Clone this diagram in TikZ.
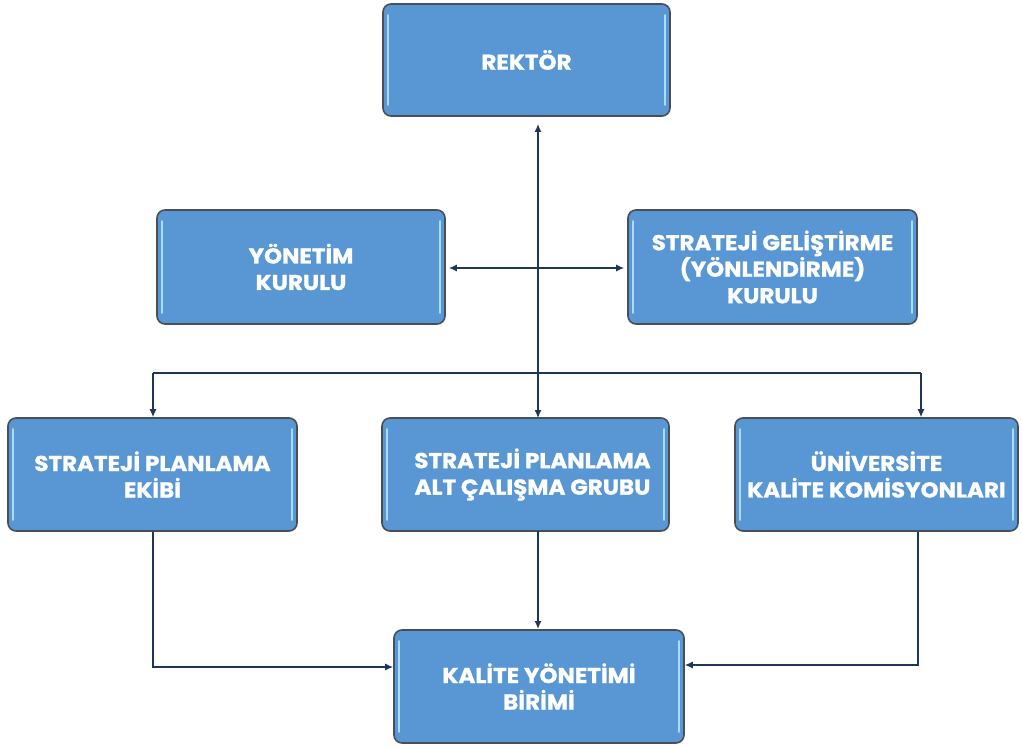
\documentclass[tikz,border=0pt]{standalone}
\usepackage{fontspec}
\setmainfont{Poppins}
\usetikzlibrary{calc,arrows.meta}
\definecolor{boxfill}{HTML}{5897D3}
\definecolor{boxedge}{HTML}{4A4F57}
\definecolor{inner}{HTML}{A9DCF8}
\definecolor{conn}{HTML}{1F3559}
\begin{document}
\begin{tikzpicture}[x=1pt,y=-1pt,
  orgbox/.style={draw=boxedge, line width=1.6pt, fill=boxfill, rounded corners=8pt,
     text=white, font=\bfseries\fontsize{21.5}{26.5}\selectfont\addfontfeature{FakeStretch=1.07,FakeBold=1.2}, align=center, inner sep=0pt},
  link/.style={draw=conn, line width=1.3pt, -{Latex[length=8pt,width=7pt]}},
  dlink/.style={draw=conn, line width=1.3pt, {Latex[length=8pt,width=7pt]}-{Latex[length=8pt,width=7pt]}}
]
\useasboundingbox (0,0) rectangle (1022,749);
\fill[white] (0,0) rectangle (1022,749);
\tikzset{mk/.style args={#1/#2/#3/#4}{orgbox, minimum width=#3, minimum height=#4}}
\node[mk=0/0/287pt/112pt] (rek) at (526.5,60) {REKTÖR};
\node[mk=0/0/288pt/114pt] (yk) at (301,267) {YÖNETİM\\KURULU};
\node[mk=0/0/289pt/114pt] (sg) at (772.5,267) {STRATEJİ GELİŞTİRME\\(YÖNLENDİRME)\\KURULU};
\node[mk=0/0/289pt/113pt] (spe) at (152.5,474.5) {STRATEJİ PLANLAMA\\EKİBİ};
\node[mk=0/0/287pt/113pt] (spa) at (525.5,474.5) {\hspace*{14pt}STRATEJİ PLANLAMA\\\hspace*{14pt}ALT ÇALIŞMA GRUBU};
\node[mk=0/0/283pt/113pt] (ukk) at (876.5,474.5) {ÜNİVERSİTE\\KALİTE KOMİSYONLARI};
\node[mk=0/0/290pt/113pt] (kyb) at (539,686.5) {KALİTE YÖNETİMİ\\BİRİMİ};
\foreach \n in {rek,yk,sg,spe,spa,ukk,kyb}{
  \draw[inner, line width=2.2pt, line cap=round] ($(\n.north west)+(6,12)$) -- ($(\n.south west)+(6,-12)$);
  \draw[inner, line width=2.2pt, line cap=round] ($(\n.north east)+(-6,12)$) -- ($(\n.south east)+(-6,-12)$);
}
% coordinates
\coordinate (top) at (538,124);
\coordinate (mid) at (538,268);
\coordinate (hl) at (153,373);
\coordinate (hr) at (921,373);
\coordinate (bl) at (153,667);
\coordinate (br) at (918,665);
\draw[link] (mid) -- (top);
\draw[link] (mid) -- (538,418) coordinate (spatop);
\draw[dlink] ($(yk.east)+(3,1)$) -- ($(sg.west)+(-3,1)$);
\draw[draw=conn, line width=1.3pt] (hl) -- (hr);
\draw[link] (hl) -- (hl |- spe.north);
\draw[link] (hr) -- (hr |- ukk.north);
\draw[link] (spe.south -| bl) -- (bl) -- (bl -| kyb.west);
\draw[link] (538,531) -- (538,629);
\draw[link] (ukk.south -| br) -- (br) -- (br -| kyb.east);
\end{tikzpicture}
\end{document}
